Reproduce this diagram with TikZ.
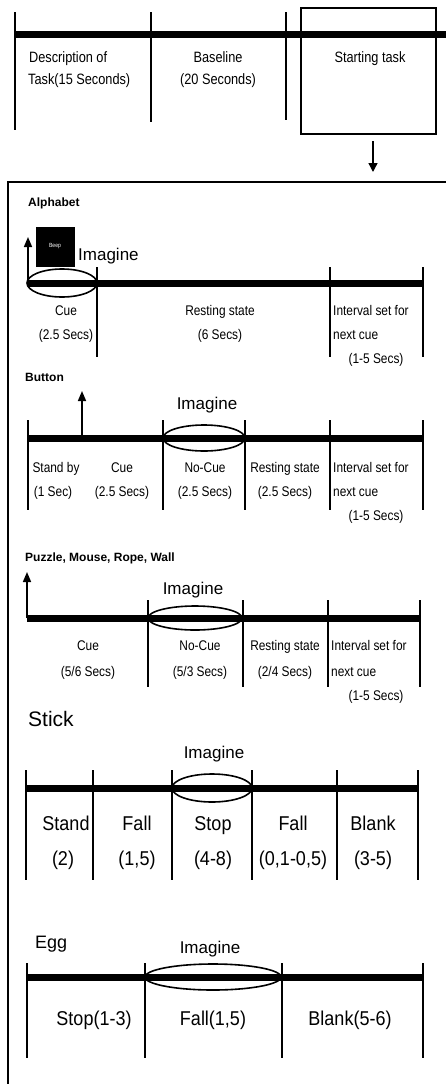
\documentclass[tikz,border=0pt]{standalone}
\usepackage{fontspec}
\setmainfont{Liberation Sans}[FakeStretch=0.85]
\newfontfamily\widesans{Liberation Sans}
\newfontfamily\midsans{Liberation Sans}[FakeStretch=0.9]
\usetikzlibrary{arrows.meta}
\tikzset{
  timeline/.style={line width=7pt},
  tickline/.style={line width=1.1pt},
  cueoval/.style={line width=1.6pt},
  uparrow/.style={line width=1.6pt,-{Triangle[length=10pt,width=8pt]}},
  toplbl/.style={inner sep=0pt,anchor=base,font=\fontsize{15}{17}\selectfont},
  lbl/.style={inner sep=0pt,anchor=base,font=\fontsize{14}{16}\selectfont},
  biglbl/.style={inner sep=0pt,anchor=base,font=\midsans\fontsize{20}{22}\selectfont},
  hdr/.style={inner sep=0pt,anchor=base west,font=\widesans\bfseries\fontsize{12}{14}\selectfont},
  imag/.style={inner sep=0pt,anchor=base,font=\widesans\fontsize{17}{19}\selectfont},
}
\begin{document}
\begin{tikzpicture}[x=1pt,y=-1pt]
\useasboundingbox (0,0) rectangle (446,1084);
% session
\draw[timeline](15,34)--(446,34);
\draw[tickline](15,12)--(15,130);
\draw[tickline](151,12)--(151,122);
\draw[tickline](286,12)--(286,120);
\node[toplbl,anchor=base west](desc1) at (29,62){Description of};
\node[toplbl,anchor=base west](desc2) at (28,84){Task(15 Seconds)};
\node[toplbl](base1) at (218,62){Baseline};
\node[toplbl](base2) at (218,84){(20 Seconds)};
\node[draw,line width=2.5pt,minimum width=135pt,minimum height=126pt,inner sep=0pt](startbox) at (368.5,71){};
\node[toplbl](starttxt) at (370,62){Starting task};
\coordinate (framein) at (373,172);
\draw[line width=1.4pt,-{Triangle[length=9pt,width=9pt]}]([yshift=-6pt]startbox.south-|framein)--(framein);
\draw[line width=1.5pt](446,182)--(8,182)--(8,1084);
% alphabet
\begin{scope}[shift={(0,283)}]
\node[hdr](alhdr) at (28,-77){Alphabet};
\node[fill=black,minimum width=39pt,minimum height=40pt,inner sep=0pt](beep) at (55.5,-36){};
\node[text=white,inner sep=0pt,font=\fontsize{6}{7}\selectfont](beeptxt) at (55,-37){Beep};
\coordinate (albase) at (28,0);
\coordinate (altip) at (28,-46);
\node[imag,anchor=base west](alimag) at (78,-23){Imagine};
\draw[timeline](28,0)--(423,0);
\draw[uparrow](albase)--(altip);
\draw[cueoval](62,0) ellipse (35pt and 14pt);
\foreach \x in {97,330,423} \draw[tickline](\x,-16)--(\x,74);
\node[lbl](al1) at (66,32){Cue};
\node[lbl](al2) at (66,56){(2.5 Secs)};
\node[lbl](al3) at (220,32){Resting state};
\node[lbl](al4) at (220,56){(6 Secs)};
\node[lbl,anchor=base west](al5) at (333,32){Interval set for};
\node[lbl,anchor=base west](al6) at (333,56){next cue};
\node[lbl](al7) at (376,80){(1-5 Secs)};
\end{scope}
% button
\begin{scope}[shift={(0,438)}]
\node[hdr](buhdr) at (25,-57){Button};
\coordinate (bubase) at (82,0);
\coordinate (butip) at (82,-47);
\node[imag](buimag) at (207,-29){Imagine};
\draw[timeline](28,0)--(423,0);
\draw[uparrow](bubase)--(butip);
\draw[cueoval](204,0) ellipse (41pt and 13pt);
\foreach \x in {28,163,245,330,423} \draw[tickline](\x,-18)--(\x,72);
\foreach \x/\t [count=\i] in {56/Stand by,122/Cue,205/No-Cue,285/Resting state}
  \node[lbl](bua\i) at (\x,34){\t};
\foreach \x/\t [count=\i] in {53/(1 Sec),122/(2.5 Secs),205/(2.5 Secs),285/(2.5 Secs)}
  \node[lbl](bub\i) at (\x,58){\t};
\node[lbl,anchor=base west](bu5) at (333,34){Interval set for};
\node[lbl,anchor=base west](bu6) at (333,58){next cue};
\node[lbl](bu7) at (376,82){(1-5 Secs)};
\end{scope}
% puzzle, mouse, rope, wall
\begin{scope}[shift={(0,618)}]
\node[hdr](puhdr) at (25,-57){Puzzle, Mouse, Rope, Wall};
\coordinate (pubase) at (27,0);
\coordinate (putip) at (27,-46);
\node[imag](puimag) at (193,-24){Imagine};
\draw[timeline](27,0)--(420,0);
\draw[uparrow](pubase)--(putip);
\draw[cueoval](195,0) ellipse (47pt and 12pt);
\foreach \x in {148,243,328,420} \draw[tickline](\x,-18)--(\x,69);
\foreach \x/\t [count=\i] in {88/Cue,200/No-Cue,285/Resting state}
  \node[lbl](pua\i) at (\x,32){\t};
\foreach \x/\t [count=\i] in {88/{(5/6 Secs)},200/{(5/3 Secs)},285/{(2/4 Secs)}}
  \node[lbl](pub\i) at (\x,58){\t};
\node[lbl,anchor=base west](pu5) at (331,32){Interval set for};
\node[lbl,anchor=base west](pu6) at (331,58){next cue};
\node[lbl](pu7) at (376,82){(1-5 Secs)};
\end{scope}
% stick
\begin{scope}[shift={(0,788)}]
\node[anchor=base west,inner sep=0pt,font=\widesans\fontsize{21}{23}\selectfont](sthdr) at (28,-62){Stick};
\node[imag](stimag) at (214,-30){Imagine};
\draw[timeline](26,0)--(418,0);
\draw[cueoval](212,0) ellipse (40pt and 14pt);
\foreach \x in {26,93,172,252,337,418} \draw[tickline](\x,-18)--(\x,92);
\foreach \x/\t [count=\i] in {66/Stand,137/Fall,213/Stop,293/Fall,373/Blank}
  \node[biglbl](sta\i) at (\x,42){\t};
\foreach \x/\t [count=\i] in {63/(2),137/{(1,5)},213/(4-8),293/{(0,1-0,5)},373/(3-5)}
  \node[biglbl](stb\i) at (\x,77){\t};
\end{scope}
% egg
\begin{scope}[shift={(0,977)}]
\node[anchor=base west,inner sep=0pt,font=\widesans\fontsize{18}{20}\selectfont](eghdr) at (35,-29){Egg};
\node[imag](egimag) at (210,-24){Imagine};
\draw[timeline](27,0)--(423,0);
\draw[cueoval](213,0) ellipse (68pt and 13pt);
\foreach \x in {27,145,282,423} \draw[tickline](\x,-14)--(\x,81);
\foreach \x/\t [count=\i] in {94/Stop(1-3),213/{Fall(1,5)},350/Blank(5-6)}
  \node[biglbl](eg\i) at (\x,48){\t};
\end{scope}
\end{tikzpicture}
\end{document}
